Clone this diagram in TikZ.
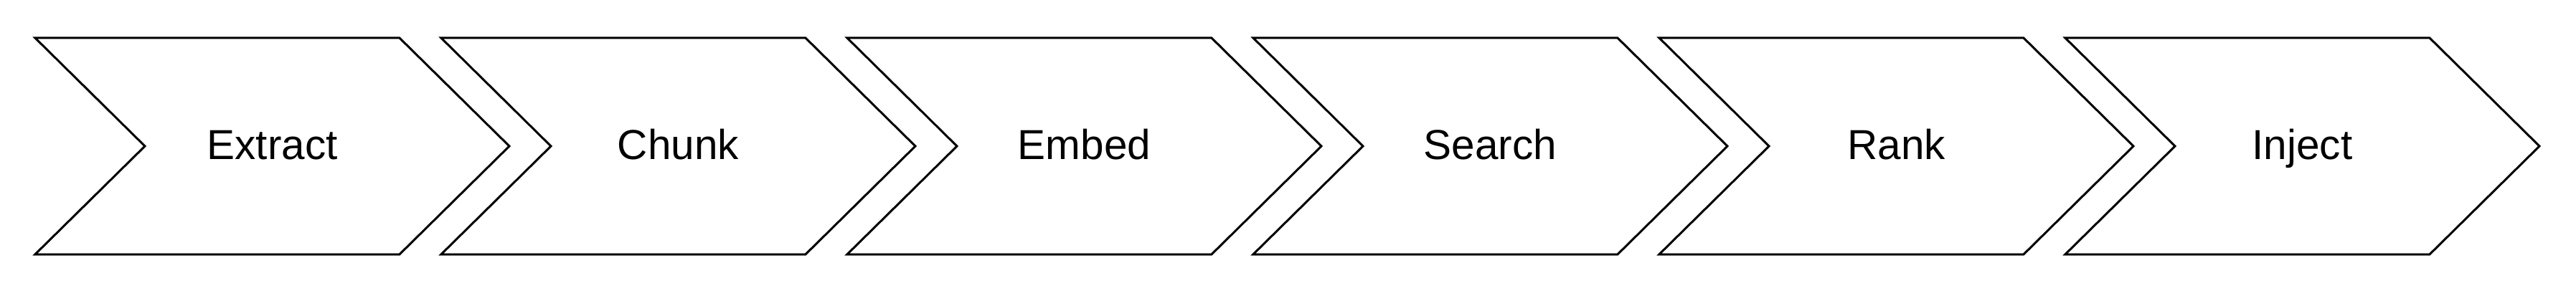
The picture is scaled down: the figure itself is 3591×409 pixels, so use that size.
\documentclass[tikz,border=0pt]{standalone}
\usepackage{fontspec}
\setmainfont{Liberation Sans}
\begin{document}
\begin{tikzpicture}[x=1pt,y=-1pt,
every node/.style={font=\fontsize{58.5}{70}\selectfont, inner sep=0pt},
stepshape/.style={draw, line width=3pt, miter limit=10}]
\def\period{566}
\def\wid{661}
\def\tip{153}
\useasboundingbox (0,0) rectangle (3591,409);
%one chevron and its label per step
\foreach \name/\txt [count=\i from 0] in {extract/Extract,chunk/Chunk,embed/Embed,search/Search,rank/Rank,inject/Inject}{
	\pgfmathsetmacro{\xl}{49+\i*\period}
	\draw[stepshape] (\xl,53) -- ++(\wid-\tip,0) -- ++(\tip,151) -- ++(-\tip,151) -- ++(-\wid+\tip,0) -- ++(\tip,-151) -- cycle;
	\node[anchor=base] (\name) at (\xl+\wid/2,222) {\txt};
}
\end{tikzpicture}
\end{document}
